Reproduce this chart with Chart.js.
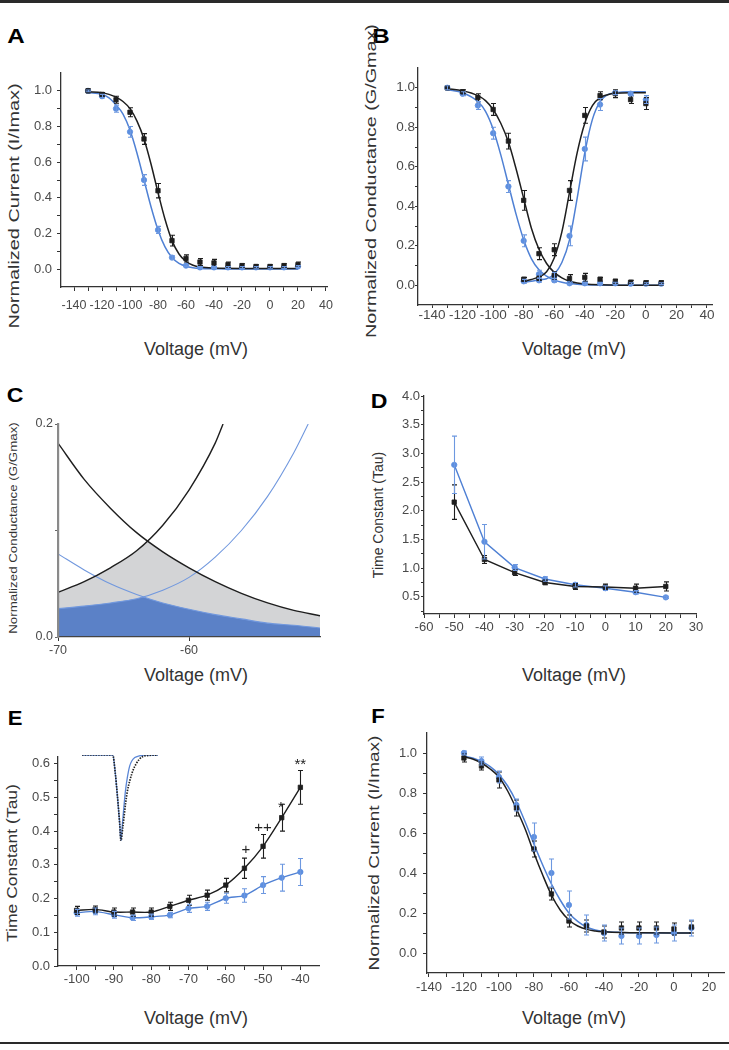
<!DOCTYPE html>
<html><head><meta charset="utf-8">
<script src="https://cdn.jsdelivr.net/npm/chart.js@4.4.1/dist/chart.umd.min.js"></script>
<style>
html,body{margin:0;padding:0;background:#fff;overflow:hidden}
body{position:relative;width:729px;height:1050px;font-family:"Liberation Sans",Arial,sans-serif}
canvas{position:absolute}
.t{position:absolute;white-space:nowrap;line-height:1;color:#333}
.lt{position:absolute;white-space:nowrap;line-height:1;color:#000;font-weight:bold;font-size:21px}
.rule{position:absolute;left:0;width:729px;background:#2a2a2a}
.clip{position:absolute;overflow:hidden}
</style></head>
<body>
<div class="rule" style="top:0;height:3px"></div>
<div class="rule" style="top:1042px;height:2px"></div>

<div class="lt" style="left:16px;top:34.5px;transform:translate(-50%,-50%) scaleX(1.15)">A</div>
<div class="lt" style="left:381px;top:34.5px;transform:translate(-50%,-50%) scaleX(1.15)">B</div>
<div class="lt" style="left:15px;top:393.5px;transform:translate(-50%,-50%) scaleX(1.1)">C</div>
<div class="lt" style="left:379px;top:400px;transform:translate(-50%,-50%) scaleX(1.1)">D</div>
<div class="lt" style="left:14.5px;top:716.5px;transform:translate(-50%,-50%) scaleX(1.05)">E</div>
<div class="lt" style="left:377.5px;top:715px;transform:translate(-50%,-50%) scaleX(1.05)">F</div>

<div class="t" style="left:196px;top:349px;font-size:18px;transform:translate(-50%,-50%)">Voltage (mV)</div>
<div class="t" style="left:574px;top:349px;font-size:18px;transform:translate(-50%,-50%)">Voltage (mV)</div>
<div class="t" style="left:196px;top:675px;font-size:18px;transform:translate(-50%,-50%)">Voltage (mV)</div>
<div class="t" style="left:574px;top:674.5px;font-size:18px;transform:translate(-50%,-50%)">Voltage (mV)</div>
<div class="t" style="left:196px;top:1018px;font-size:18px;transform:translate(-50%,-50%)">Voltage (mV)</div>
<div class="t" style="left:574px;top:1018px;font-size:18px;transform:translate(-50%,-50%)">Voltage (mV)</div>

<div class="t" style="left:13.5px;top:206px;font-size:14px;transform:translate(-50%,-50%) rotate(-90deg) scaleX(1.42)">Normalized Current (I/Imax)</div>
<div class="clip" style="left:364px;top:0;width:30px;height:360px">
  <div class="t" style="left:7px;top:181px;font-size:14px;transform:translate(-50%,-50%) rotate(-90deg) scaleX(1.41)">Normalized Conductance (G/Gmax)</div>
</div>
<div class="t" style="left:12.5px;top:527.5px;font-size:11px;transform:translate(-50%,-50%) rotate(-90deg) scaleX(1.21)">Normalized Conductance (G/Gmax)</div>
<div class="t" style="left:377.5px;top:515px;font-size:14px;transform:translate(-50%,-50%) rotate(-90deg)">Time Constant (Tau)</div>
<div class="t" style="left:11.5px;top:863px;font-size:14px;transform:translate(-50%,-50%) rotate(-90deg) scaleX(1.25)">Time Constant (Tau)</div>
<div class="t" style="left:374px;top:852.5px;font-size:14px;transform:translate(-50%,-50%) rotate(-90deg) scaleX(1.36)">Normalized Current (I/Imax)</div>

<script>
// ---------------- Panel A ----------------
const aVolt = [-130,-120,-110,-100,-90,-80,-70,-60,-50,-40,-30,-20,-10,0,10,20];
const aBlack = [1.0,0.98,0.95,0.88,0.73,0.44,0.16,0.06,0.04,0.035,0.025,0.02,0.015,0.015,0.02,0.025];
const aBlackErr = [0.01,0.01,0.02,0.025,0.03,0.04,0.03,0.02,0.02,0.02,0.015,0.01,0.01,0.01,0.01,0.015];
const aBlue = [1.0,0.97,0.9,0.77,0.5,0.22,0.065,0.02,0.01,0.01,0.01,0.01,0.01,0.01,0.01,0.015];
const aBlueErr = [0.005,0.01,0.02,0.03,0.03,0.02,0.01,0.005,0.005,0.005,0.005,0.005,0.005,0.005,0.005,0.005];
const aFitVolt = [-130,-120,-115,-110,-105,-100,-95,-90,-85,-80,-75,-70,-65,-60,-55,-50,-40,-20,0,20];
const aFitBlack = [0.995,0.99,0.98,0.965,0.94,0.9,0.83,0.73,0.59,0.43,0.28,0.16,0.085,0.043,0.022,0.012,0.006,0.004,0.004,0.004];
const aFitBlue = [0.99,0.98,0.96,0.92,0.87,0.78,0.65,0.5,0.35,0.22,0.125,0.065,0.032,0.016,0.008,0.004,0.002,0.001,0.001,0.001];

// ---------------- Panel B ----------------
const bInactVolt = [-130,-120,-110,-100,-90,-80,-70,-60,-50,-40,-30,-20,-10,0,10];
const bInactBlack = [1.0,0.98,0.95,0.89,0.73,0.43,0.16,0.05,0.034,0.04,0.03,0.02,0.015,0.012,0.012];
const bInactBlackErr = [0.01,0.01,0.02,0.03,0.04,0.05,0.03,0.02,0.02,0.02,0.01,0.01,0.01,0.01,0.01];
const bInactBlue = [1.0,0.97,0.91,0.77,0.5,0.225,0.056,0.025,0.01,0.01,0.01,0.01,0.008,0.008,0.008];
const bInactBlueErr = [0.01,0.01,0.02,0.03,0.03,0.03,0.02,0.01,0.005,0.005,0.005,0.005,0.005,0.005,0.005];
const bActVolt = [-80,-70,-60,-50,-40,-30,-20,-10,0];
const bActBlack = [0.03,0.035,0.18,0.48,0.86,0.96,0.97,0.94,0.92];
const bActBlackErr = [0.01,0.01,0.03,0.05,0.04,0.02,0.02,0.02,0.03];
const bActBlue = [0.02,0.025,0.045,0.25,0.69,0.915,0.975,0.97,0.94];
const bActBlueErr = [0.01,0.01,0.02,0.05,0.06,0.03,0.01,0.01,0.02];
const bFitInactVolt = [-130,-120,-110,-105,-100,-95,-90,-85,-80,-75,-70,-65,-60,-55,-50,-45,-40,-30,-20,-10,10];
const bFitInactBlack = [0.995,0.985,0.96,0.935,0.89,0.82,0.725,0.59,0.44,0.29,0.182,0.11,0.065,0.037,0.02,0.011,0.006,0.002,0.001,0,0];
const bFitInactBlue = [0.99,0.975,0.93,0.88,0.79,0.66,0.51,0.36,0.23,0.135,0.078,0.046,0.026,0.015,0.0085,0.005,0.003,0.001,0,0,0];
const bFitActVolt = [-80,-75,-70,-65,-60,-55,-50,-45,-40,-35,-30,-25,-20,-10,0];
const bFitActBlack = [0.02,0.029,0.042,0.068,0.138,0.27,0.47,0.67,0.82,0.91,0.95,0.965,0.972,0.975,0.975];
const bFitActBlue = [0.015,0.02,0.027,0.033,0.056,0.115,0.23,0.44,0.67,0.84,0.93,0.965,0.975,0.98,0.98];

// ---------------- Panel C ----------------
const cVolt = [-70,-68,-66,-64,-62,-60,-58,-56,-54,-52,-50];
const cBlackInact = [0.182,0.148,0.121,0.098,0.080,0.065,0.052,0.041,0.032,0.025,0.020];
const cBlueInact = [0.078,0.063,0.050,0.040,0.032,0.026,0.021,0.017,0.013,0.011,0.0085];
const cBlackActVolt = [-70,-68,-66,-64,-62,-60,-58,-57.4];
const cBlackAct = [0.042,0.052,0.065,0.081,0.105,0.138,0.182,0.2];
const cBlueActVolt = [-70,-68,-66,-64,-62,-60,-58,-56,-54,-52,-50.9];
const cBlueAct = [0.0266,0.029,0.032,0.036,0.044,0.056,0.075,0.100,0.132,0.173,0.2];
const cGrayVolt = [-70,-68,-66,-64,-63.17,-62,-60,-58,-56,-54,-52,-50];
const cGrayTop = [0.042,0.052,0.065,0.081,0.0898,0.080,0.065,0.052,0.041,0.032,0.025,0.020];
const cBlueFillVolt = [-70,-68,-66,-64,-63.5,-62,-60,-58,-56,-54,-52,-50];
const cBlueFillTop = [0.0266,0.029,0.032,0.036,0.0376,0.032,0.026,0.021,0.017,0.013,0.011,0.0085];

// ---------------- Panel D ----------------
const dVolt = [-50,-40,-30,-20,-10,0,10,20];
const dBlack = [2.15,1.15,0.92,0.75,0.68,0.67,0.65,0.68];
const dBlackErr = [0.3,0.07,0.05,0.04,0.05,0.05,0.07,0.08];
const dBlue = [2.8,1.46,1.01,0.81,0.71,0.65,0.58,0.49];
const dBlueErr = [0.5,0.3,0.05,0.04,0.04,0.04,0.03,0.02];

// ---------------- Panel E ----------------
const eVolt = [-100,-95,-90,-85,-80,-75,-70,-65,-60,-55,-50,-45,-40];
const eBlack = [0.165,0.168,0.16,0.16,0.16,0.177,0.195,0.21,0.24,0.29,0.355,0.44,0.53];
const eBlackErr = [0.012,0.01,0.012,0.012,0.012,0.012,0.015,0.015,0.02,0.03,0.035,0.04,0.05];
const eBlue = [0.158,0.162,0.152,0.143,0.146,0.151,0.171,0.177,0.201,0.209,0.24,0.262,0.279];
const eBlueErr = [0.01,0.01,0.01,0.008,0.008,0.008,0.012,0.012,0.015,0.02,0.025,0.04,0.04];
const eMarkText = ['+','++','*','**'];
const eMarkVolt = [-54.6,-50,-45.2,-40];
const eMarkTau = [0.344,0.411,0.469,0.596];
// inset current traces (arbitrary time units, normalized current)
const insetTimeBlack = [0,10.2,11,11.8,12.5,12.9,13.5,14,14.5,15,16,17,18,19,20,22,25.2];
const insetBlack = [0,0,-0.2,-0.5,-0.8,-1,-0.85,-0.7,-0.55,-0.43,-0.28,-0.17,-0.1,-0.05,-0.02,-0.005,0];
const insetTimeBlue = [0,10.2,11,11.8,12.5,12.9,13.4,13.9,14.4,15,15.8,16.5,17.5,19,21,25.2];
const insetBlue = [0,0,-0.2,-0.5,-0.8,-1,-0.8,-0.6,-0.42,-0.27,-0.13,-0.07,-0.03,-0.01,0,0];

// ---------------- Panel F ----------------
const fVolt = [-120,-110,-100,-90,-80,-70,-60,-50,-40,-30,-20,-10,0,10];
const fBlack = [0.975,0.935,0.865,0.725,0.52,0.295,0.16,0.135,0.105,0.125,0.125,0.125,0.12,0.13];
const fBlackErr = [0.02,0.02,0.04,0.04,0.04,0.03,0.03,0.03,0.03,0.03,0.03,0.03,0.03,0.03];
const fBlue = [1.0,0.96,0.88,0.74,0.58,0.40,0.24,0.14,0.10,0.085,0.085,0.09,0.10,0.125];
const fBlueErr = [0.01,0.02,0.03,0.03,0.07,0.07,0.07,0.05,0.04,0.04,0.04,0.04,0.04,0.04];
const fFitVolt = [-120,-115,-110,-105,-100,-95,-90,-85,-80,-75,-70,-65,-60,-55,-50,-45,-40,-30,-20,0,10];
const fFitBlack = [0.98,0.97,0.95,0.92,0.88,0.81,0.72,0.62,0.5,0.39,0.29,0.215,0.165,0.135,0.118,0.11,0.106,0.102,0.101,0.1,0.1];
const fFitBlue = [0.985,0.975,0.958,0.932,0.893,0.835,0.755,0.655,0.545,0.44,0.345,0.265,0.2,0.158,0.13,0.115,0.108,0.103,0.101,0.1,0.1];

// ---------------- Ticks ----------------
const ticksX150 = [-140,-130,-120,-110,-100,-90,-80,-70,-60,-50,-40,-30,-20,-10,0,10,20,30,40];
const labelsX150 = [-140,-120,-100,-80,-60,-40,-20,0,20,40];
const ticksNorm = [0,0.1,0.2,0.3,0.4,0.5,0.6,0.7,0.8,0.9,1.0];
const labelsNorm = [0,0.2,0.4,0.6,0.8,1.0];
const ticksXC = [-70,-60];
const labelsXC = [-70,-60];
const ticksYC = [0,0.1,0.2];
const labelsYC = [0,0.2];
const ticksXD = [-60,-55,-50,-45,-40,-35,-30,-25,-20,-15,-10,-5,0,5,10,15,20,25,30];
const labelsXD = [-60,-50,-40,-30,-20,-10,0,10,20,30];
const ticksYD = [0.25,0.5,0.75,1.0,1.25,1.5,1.75,2.0,2.25,2.5,2.75,3.0,3.25,3.5,3.75,4.0];
const labelsYD = [0.5,1.0,1.5,2.0,2.5,3.0,3.5,4.0];
const ticksXE = [-100,-95,-90,-85,-80,-75,-70,-65,-60,-55,-50,-45,-40];
const labelsXE = [-100,-90,-80,-70,-60,-50,-40];
const ticksYE = [0,0.05,0.1,0.15,0.2,0.25,0.3,0.35,0.4,0.45,0.5,0.55,0.6];
const labelsYE = [0,0.1,0.2,0.3,0.4,0.5,0.6];
const ticksXF = [-140,-130,-120,-110,-100,-90,-80,-70,-60,-50,-40,-30,-20,-10,0,10,20];
const labelsXF = [-140,-120,-100,-80,-60,-40,-20,0,20];

// ---------------- helpers ----------------
const FONT = '"Liberation Sans", Arial, sans-serif';
const BLACK = '#1e1e1e';
const BLUE = '#4f80d4';
const BLUE_PT = '#5d8fe0';
const zip = (xs, ys) => xs.map((x, i) => ({x: x, y: ys[i]}));
Chart.defaults.font.family = FONT;

const errorBars = {
  id: 'errorBars',
  afterDatasetsDraw(chart) {
    const ctx = chart.ctx, xs = chart.scales.x, ys = chart.scales.y;
    chart.data.datasets.forEach(ds => {
      if (!ds.errors) return;
      ctx.save();
      ctx.strokeStyle = ds.errColor || ds.pointBackgroundColor;
      ctx.lineWidth = 1.1;
      ds.data.forEach((p, j) => {
        const e = ds.errors[j];
        if (!e) return;
        const x = Math.round(xs.getPixelForValue(p.x)) + 0.5;
        const y1 = ys.getPixelForValue(p.y + e), y2 = ys.getPixelForValue(p.y - e);
        ctx.beginPath();
        ctx.moveTo(x, y1); ctx.lineTo(x, y2);
        ctx.moveTo(x - 2.5, y1); ctx.lineTo(x + 2.5, y1);
        ctx.moveTo(x - 2.5, y2); ctx.lineTo(x + 2.5, y2);
        ctx.stroke();
      });
      ctx.restore();
    });
  }
};

function sc(isX, o) {
  const fmt = isX ? (v => String(v)) : (v => v.toFixed(1));
  return {
    type: 'linear', min: o.min, max: o.max,
    afterFit: s => { if (isX) s.height = 40; else s.width = 50; },
    afterBuildTicks: s => { s.ticks = o.ticks.map(v => ({value: v})); },
    ticks: {
      autoSkip: false, maxRotation: 0, minRotation: 0, padding: o.pad, color: '#4a4a4a',
      font: {family: FONT, size: o.fs},
      callback: v => o.labels.some(l => Math.abs(l - v) < 1e-9) ? fmt(v) : ''
    },
    grid: {display: true, drawOnChartArea: false, drawTicks: true, tickLength: o.tl, color: o.gc || '#333', lineWidth: 1},
    border: {display: true, color: o.bc || '#333', width: o.bw || 1.3, z: 1}
  };
}

function makeCanvas(box) {
  const c = document.createElement('canvas');
  const left = box.L - 50, top = box.T - 20;
  const w = box.R + 12 - left, h = box.B + 40 - top;
  c.width = w; c.height = h;
  c.style.left = left + 'px'; c.style.top = top + 'px';
  c.style.width = w + 'px'; c.style.height = h + 'px';
  document.body.appendChild(c);
  return c;
}

function baseOpts(scales) {
  return {
    responsive: false, animation: false, devicePixelRatio: 1, events: [],
    layout: {padding: {left: 0, top: 20, right: 12, bottom: 0}},
    plugins: {legend: {display: false}, tooltip: {enabled: false}},
    scales: scales
  };
}

function pts(xs, ys, errs, isBlue, style) {
  return {
    data: zip(xs, ys), errors: errs, showLine: false,
    pointStyle: style || (isBlue ? 'circle' : 'rect'),
    pointRadius: isBlue ? 2.7 : 3.1, pointBorderWidth: 0.8,
    pointBackgroundColor: isBlue ? BLUE_PT : BLACK, pointBorderColor: isBlue ? BLUE_PT : BLACK,
    errColor: isBlue ? '#6d98e0' : BLACK, borderColor: isBlue ? BLUE : BLACK
  };
}
function fit(xs, ys, isBlue, w) {
  return {
    data: zip(xs, ys), pointRadius: 0, borderWidth: w || 1.5,
    borderColor: isBlue ? BLUE : BLACK, cubicInterpolationMode: 'monotone', fill: false
  };
}
function ptsLine(xs, ys, errs, isBlue, tension) {
  const d = pts(xs, ys, errs, isBlue);
  d.showLine = true; d.borderWidth = 1.4; d.tension = tension; d.fill = false;
  return d;
}

// ---------- Panel A ----------
new Chart(makeCanvas({L: 61, T: 73, R: 328, B: 287}), {
  type: 'line',
  data: {datasets: [
    pts(aVolt, aBlack, aBlackErr, false),
    pts(aVolt, aBlue, aBlueErr, true),
    fit(aFitVolt, aFitBlack, false),
    fit(aFitVolt, aFitBlue, true)
  ]},
  options: baseOpts({
    x: sc(true, {min: -149.3, max: 41.4, ticks: ticksX150, labels: labelsX150, fs: 12.5, pad: 7, tl: 4}),
    y: sc(false, {min: -0.1, max: 1.1, ticks: ticksNorm, labels: labelsNorm, fs: 13, pad: 5, tl: 4})
  }),
  plugins: [errorBars]
});

// ---------- Panel B ----------
new Chart(makeCanvas({L: 418, T: 68, R: 712, B: 305}), {
  type: 'line',
  data: {datasets: [
    pts(bInactVolt, bInactBlack, bInactBlackErr, false),
    pts(bActVolt, bActBlack, bActBlackErr, false),
    pts(bInactVolt, bInactBlue, bInactBlueErr, true),
    pts(bActVolt, bActBlue, bActBlueErr, true),
    fit(bFitInactVolt, bFitInactBlack, false),
    fit(bFitActVolt, bFitActBlack, false),
    fit(bFitInactVolt, bFitInactBlue, true),
    fit(bFitActVolt, bFitActBlue, true)
  ]},
  options: baseOpts({
    x: sc(true, {min: -149.2, max: 43.3, ticks: ticksX150, labels: labelsX150, fs: 13.5, pad: -1, tl: 3}),
    y: sc(false, {min: -0.1, max: 1.1, ticks: ticksNorm, labels: labelsNorm, fs: 13.5, pad: 0, tl: 3})
  }),
  plugins: [errorBars]
});

// ---------- Panel C ----------
new Chart(makeCanvas({L: 58, T: 424, R: 320, B: 637}), {
  type: 'line',
  data: {datasets: [
    fit(cVolt, cBlackInact, false, 1.4),
    fit(cBlackActVolt, cBlackAct, false, 1.4),
    {data: zip(cVolt, cBlueInact), pointRadius: 0, borderWidth: 1.1, borderColor: '#7198de', cubicInterpolationMode: 'monotone', fill: false},
    {data: zip(cBlueActVolt, cBlueAct), pointRadius: 0, borderWidth: 1.1, borderColor: '#7198de', cubicInterpolationMode: 'monotone', fill: false},
    {data: zip(cBlueFillVolt, cBlueFillTop), pointRadius: 0, borderWidth: 0, borderColor: 'rgba(0,0,0,0)', backgroundColor: '#5b81c7', fill: 'origin', tension: 0},
    {data: zip(cGrayVolt, cGrayTop), pointRadius: 0, borderWidth: 0, borderColor: 'rgba(0,0,0,0)', backgroundColor: '#d3d4d6', fill: 'origin', tension: 0}
  ]},
  options: baseOpts({
    x: sc(true, {min: -70, max: -50, ticks: ticksXC, labels: labelsXC, fs: 12.5, pad: 2.5, tl: 4, bc: '#444', bw: 1.3}),
    y: sc(false, {min: 0, max: 0.2, ticks: ticksYC, labels: labelsYC, fs: 12.5, pad: 2, tl: 3, bc: '#8a8a8a', bw: 2.2, gc: '#666'})
  })
});

// ---------- Panel D ----------
new Chart(makeCanvas({L: 424, T: 396, R: 696, B: 614}), {
  type: 'line',
  data: {datasets: [
    ptsLine(dVolt, dBlack, dBlackErr, false, 0),
    ptsLine(dVolt, dBlue, dBlueErr, true, 0)
  ]},
  options: baseOpts({
    x: sc(true, {min: -60, max: 30, ticks: ticksXD, labels: labelsXD, fs: 13, pad: 2, tl: 4}),
    y: sc(false, {min: 0.2, max: 4.0, ticks: ticksYD, labels: labelsYD, fs: 13, pad: 1, tl: 3})
  }),
  plugins: [errorBars]
});

// ---------- Panel E ----------
const eMarks = {
  id: 'eMarks',
  afterDatasetsDraw(chart) {
    const ctx = chart.ctx, xs = chart.scales.x, ys = chart.scales.y;
    ctx.save();
    ctx.fillStyle = '#222';
    ctx.textAlign = 'center';
    ctx.textBaseline = 'middle';
    ctx.font = '15px ' + FONT;
    eMarkText.forEach((t, i) => ctx.fillText(t, xs.getPixelForValue(eMarkVolt[i]), ys.getPixelForValue(eMarkTau[i])));
    ctx.restore();
  }
};
new Chart(makeCanvas({L: 58, T: 757, R: 319, B: 966}), {
  type: 'line',
  data: {datasets: [
    ptsLine(eVolt, eBlack, eBlackErr, false, 0.3),
    ptsLine(eVolt, eBlue, eBlueErr, true, 0.2)
  ]},
  options: baseOpts({
    x: sc(true, {min: -105, max: -35, ticks: ticksXE, labels: labelsXE, fs: 13, pad: 2, tl: 4}),
    y: sc(false, {min: 0, max: 0.62, ticks: ticksYE, labels: labelsYE, fs: 13, pad: 4, tl: 4})
  }),
  plugins: [errorBars, eMarks]
});

// inset trace in E
(function () {
  const c = document.createElement('canvas');
  c.width = 80; c.height = 90;
  c.style.left = '80px'; c.style.top = '753px'; c.style.width = '80px'; c.style.height = '90px';
  document.body.appendChild(c);
  new Chart(c, {
    type: 'line',
    data: {datasets: [
      {data: zip(insetTimeBlack, insetBlack), pointRadius: 0, borderWidth: 1.7, borderColor: '#222', borderDash: [1.5, 1.2], cubicInterpolationMode: 'monotone', fill: false},
      {data: zip(insetTimeBlue, insetBlue), pointRadius: 0, borderWidth: 1.3, borderColor: '#5a86d6', cubicInterpolationMode: 'monotone', fill: false}
    ]},
    options: {
      responsive: false, animation: false, devicePixelRatio: 1, events: [],
      layout: {padding: 2},
      plugins: {legend: {display: false}, tooltip: {enabled: false}},
      scales: {x: {type: 'linear', display: false, min: 0, max: 25.2}, y: {type: 'linear', display: false, min: -1, max: 0}}
    }
  });
})();

// ---------- Panel F ----------
new Chart(makeCanvas({L: 427, T: 733, R: 724, B: 973}), {
  type: 'line',
  data: {datasets: [
    pts(fVolt, fBlack, fBlackErr, false),
    pts(fVolt, fBlue, fBlueErr, true),
    fit(fFitVolt, fFitBlack, false),
    fit(fFitVolt, fFitBlue, true)
  ]},
  options: baseOpts({
    x: sc(true, {min: -141.1, max: 28.6, ticks: ticksXF, labels: labelsXF, fs: 13, pad: 3, tl: 4}),
    y: sc(false, {min: -0.1, max: 1.1, ticks: ticksNorm, labels: labelsNorm, fs: 13, pad: 6, tl: 4})
  }),
  plugins: [errorBars]
});
</script>
</body></html>
